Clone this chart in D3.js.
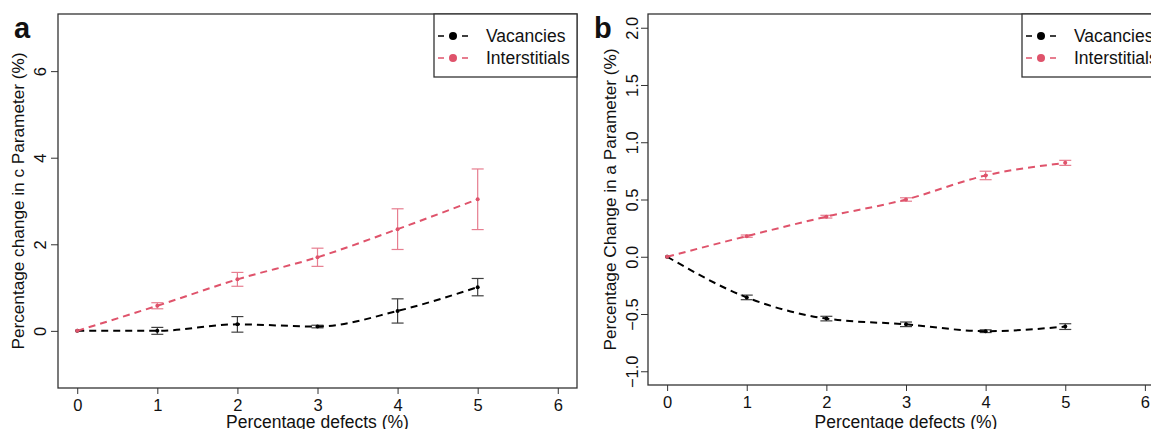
<!DOCTYPE html>
<html lang="en">
<head>
<meta charset="UTF-8">
<title>Defect parameter change</title>
<script src="https://d3js.org/d3.v7.min.js"></script>
<style>
  body { margin: 0; background: #fff; }
  svg text { font-family: "Liberation Sans", Arial, sans-serif; fill: #111; }
</style>
</head>
<body>
<svg id="chart" width="1151" height="429"></svg>
<script>
// defect percentages on x
const defects = [0, 1, 2, 3, 4, 5];
const xTicks = [0, 1, 2, 3, 4, 5, 6];

// panel a: change in c parameter (%)
const cVacMean = [0, 0.00, 0.15, 0.10, 0.46, 1.01];
const cVacErr = [0, 0.08, 0.18, 0.03, 0.28, 0.20];
const cIntMean = [0, 0.58, 1.19, 1.70, 2.35, 3.04];
const cIntErr = [0, 0.07, 0.16, 0.21, 0.47, 0.70];
const cTicks = [0, 2, 4, 6];

// panel b: change in a parameter (%)
const aVacMean = [0, -0.355, -0.54, -0.59, -0.65, -0.61];
const aVacErr = [0, 0.02, 0.02, 0.02, 0.012, 0.025];
const aIntMean = [0, 0.18, 0.35, 0.50, 0.71, 0.82];
const aIntErr = [0, 0.01, 0.012, 0.015, 0.037, 0.022];
const aTicks = [-1.0, -0.5, 0.0, 0.5, 1.0, 1.5, 2.0];

const seriesNames = ["Vacancies", "Interstitials"];
const seriesColors = ["#000000", "#DF536B"];

const svg = d3.select("#chart");

function drawPanel(p) {
    const g = svg.append("g");
    // R style 4% padding around the limits
    const xs = d3.scaleLinear().domain([-0.24, 6.24]).range([p.left, p.right]);
    const span = p.ylim[1] - p.ylim[0];
    const ys = d3.scaleLinear()
        .domain([p.ylim[0] - 0.04 * span, p.ylim[1] + 0.04 * span])
        .range([p.bottom, p.top]);

    // box
    g.append("rect")
        .attr("x", p.left).attr("y", p.top)
        .attr("width", p.right - p.left).attr("height", p.bottom - p.top)
        .attr("fill", "none").attr("stroke", "#333").attr("stroke-width", 1.3);

    // x axis
    const xAxis = g.append("g").attr("transform", `translate(0,${p.bottom})`)
        .call(d3.axisBottom(xs).tickValues(xTicks).tickSize(6).tickSizeOuter(0).tickFormat(d3.format("d")));
    xAxis.select(".domain").remove();
    xAxis.selectAll("line").attr("stroke", "#333");
    xAxis.selectAll("text").attr("font-size", 16.5).attr("dy", "0.85em").attr("fill", "#111");

    // y axis with rotated labels
    const yAxis = g.append("g").attr("transform", `translate(${p.left},0)`)
        .call(d3.axisLeft(ys).tickValues(p.yTicks).tickSize(7).tickSizeOuter(0).tickFormat(p.fmt));
    yAxis.select(".domain").remove();
    yAxis.selectAll("line").attr("stroke", "#333");
    yAxis.selectAll("text")
        .attr("font-size", 16.5).attr("fill", "#111")
        .attr("text-anchor", "middle")
        .attr("x", null).attr("dy", null)
        .attr("transform", `translate(${p.labelX - p.left},0) rotate(-90)`)
        .attr("dominant-baseline", "central");

    // axis titles
    g.append("text")
        .attr("x", (p.left + p.right) / 2).attr("y", 428)
        .attr("text-anchor", "middle").attr("font-size", 17.5)
        .text("Percentage defects (%)");
    g.append("text")
        .attr("transform", `translate(${p.titleX},${(p.top + p.bottom) / 2}) rotate(-90)`)
        .attr("text-anchor", "middle").attr("dominant-baseline", "central").attr("font-size", 17.2)
        .text(p.yTitle);

    // panel letter
    g.append("text")
        .attr("x", p.letterX).attr("y", 38)
        .attr("font-size", 29).attr("font-weight", "bold").attr("fill", "#000")
        .text(p.letter);

    const line = d3.line().x((d, i) => xs(defects[i])).y(d => ys(d)).curve(d3.curveMonotoneX);

    p.series.forEach((s, k) => {
        const color = seriesColors[k];
        const sg = g.append("g");
        // error bars
        s.mean.forEach((m, i) => {
            const e = s.err[i];
            if (e <= 0) return;
            const cx = xs(defects[i]);
            const eb = sg.append("g").attr("stroke", color).attr("stroke-width", 1.2).attr("opacity", 0.75);
            eb.append("line").attr("x1", cx).attr("x2", cx).attr("y1", ys(m - e)).attr("y2", ys(m + e));
            eb.append("line").attr("x1", cx - 6).attr("x2", cx + 6).attr("y1", ys(m - e)).attr("y2", ys(m - e));
            eb.append("line").attr("x1", cx - 6).attr("x2", cx + 6).attr("y1", ys(m + e)).attr("y2", ys(m + e));
        });
        sg.append("path")
            .attr("d", line(s.mean))
            .attr("fill", "none").attr("stroke", color)
            .attr("stroke-width", 2).attr("stroke-dasharray", "7,5");
        sg.selectAll("circle").data(s.mean).join("circle")
            .attr("cx", (d, i) => xs(defects[i])).attr("cy", d => ys(d))
            .attr("r", 2).attr("fill", color);
    });

    // legend
    const lg = g.append("g");
    lg.append("rect")
        .attr("x", p.legX).attr("y", p.top)
        .attr("width", p.right - p.legX).attr("height", 63)
        .attr("fill", "#fff").attr("stroke", "#333").attr("stroke-width", 1.3);
    seriesNames.forEach((name, k) => {
        const yy = p.top + 22 + k * 22;
        lg.append("line")
            .attr("x1", p.legX + 4).attr("x2", p.legX + 34).attr("y1", yy).attr("y2", yy)
            .attr("stroke", seriesColors[k]).attr("stroke-width", 1.5).attr("stroke-dasharray", "6,6");
        lg.append("circle").attr("cx", p.legX + 19).attr("cy", yy).attr("r", 4).attr("fill", seriesColors[k]);
        lg.append("text")
            .attr("x", p.legX + 52).attr("y", yy)
            .attr("dominant-baseline", "central").attr("font-size", 17.5)
            .text(name);
    });
}

drawPanel({
    left: 58, right: 577, top: 14, bottom: 388,
    ylim: [-1, 7], yTicks: cTicks, fmt: d3.format("d"),
    labelX: 40, titleX: 18, letter: "a", letterX: 14, legX: 434,
    yTitle: "Percentage change in c Parameter (%)",
    series: [{ mean: cVacMean, err: cVacErr }, { mean: cIntMean, err: cIntErr }]
});

drawPanel({
    left: 648, right: 1164, top: 14, bottom: 385,
    ylim: [-1, 2], yTicks: aTicks, fmt: d3.format(".1f"),
    labelX: 632, titleX: 610, letter: "b", letterX: 594, legX: 1022,
    yTitle: "Percentage Change in a Parameter (%)",
    series: [{ mean: aVacMean, err: aVacErr }, { mean: aIntMean, err: aIntErr }]
});
</script>
</body>
</html>
